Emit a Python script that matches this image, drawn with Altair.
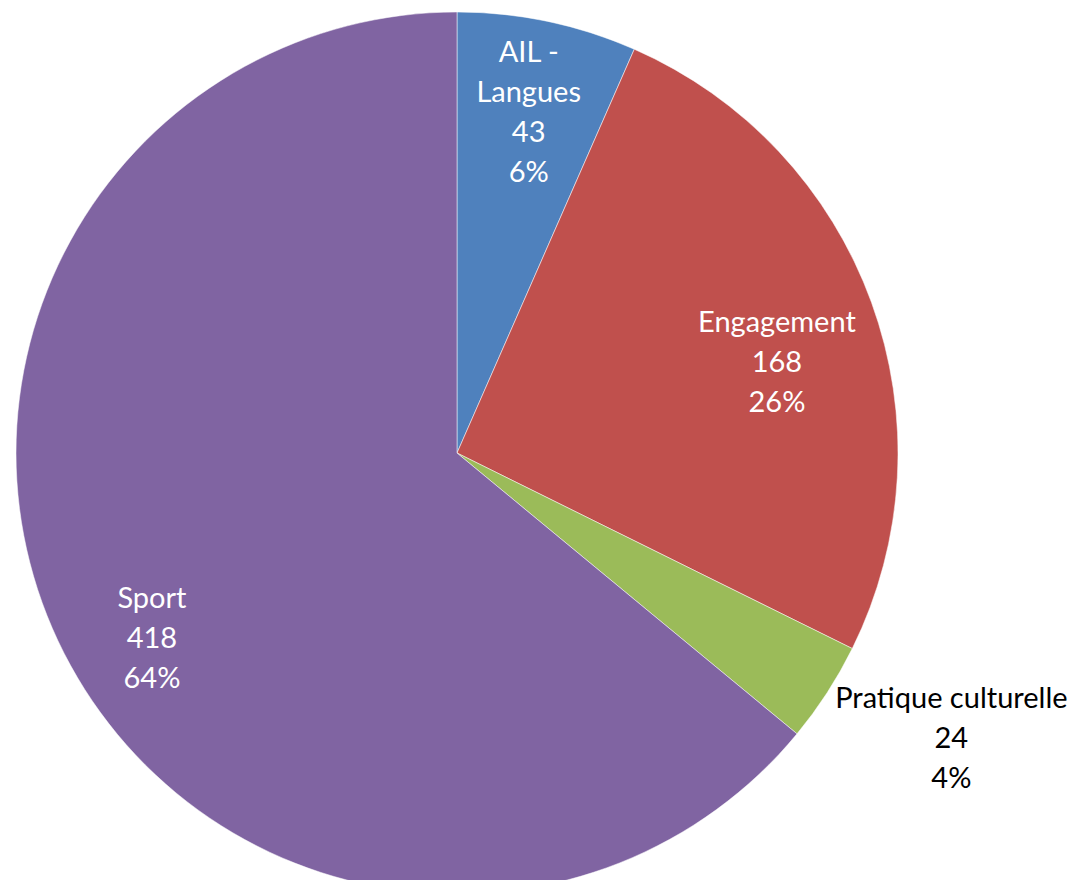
import altair as alt
import pandas as pd

categories = ["AIL - Langues", "Engagement", "Pratique culturelle", "Sport"]
label_lines = [["AIL -", "Langues"], ["Engagement"], ["Pratique culturelle"], ["Sport"]]
values = [43, 168, 24, 418]
pct_labels = ["6%", "26%", "4%", "64%"]
colors = ["#4F81BD", "#C0504D", "#9BBB59", "#8064A2"]

df = pd.DataFrame({
    "cat": categories,
    "value": values,
    "order": list(range(len(categories))),
    "label": [ln + [str(v), p] for ln, v, p in zip(label_lines, values, pct_labels)],
})

CX, CY, R = 449, 445, 441
FONT = "Lato"
FS = 29
LH = 40

base = alt.Chart(df).encode(
    theta=alt.Theta("value:Q", stack=True),
    order=alt.Order("order:Q"),
)

pie = base.mark_arc(stroke="white", strokeWidth=0.5).encode(
    color=alt.Color("cat:N", scale=alt.Scale(domain=categories, range=colors), legend=None),
    x=alt.value(CX), y=alt.value(CY), radius=alt.value(R),
)

# per-label placement: (label radius, dx, dy, colour)
placement = {
    "AIL - Langues": (349, 0, -58, "white"),
    "Engagement": (333, 7, -16, "white"),
    "Pratique culturelle": (570, 16, -64, "black"),
    "Sport": (356, 17, -6, "white"),
}

layers = [pie]
for cat in categories:
    r, dx, dy, col = placement[cat]
    txt = base.mark_text(font=FONT, fontSize=FS, color=col, lineHeight=LH,
                         align="center", baseline="middle", dx=dx, dy=dy).encode(
        text="label", x=alt.value(CX), y=alt.value(CY), radius=alt.value(r),
        opacity=alt.condition(alt.datum.cat == cat, alt.value(1), alt.value(0)),
    )
    layers.append(txt)

chart = alt.layer(*layers).properties(
    width=1063, height=872,
    autosize=alt.AutoSizeParams(type="none"),
    padding=0,
).configure_view(stroke=None)

chart.save("out.html", embed_options={"renderer": "svg", "actions": False})
